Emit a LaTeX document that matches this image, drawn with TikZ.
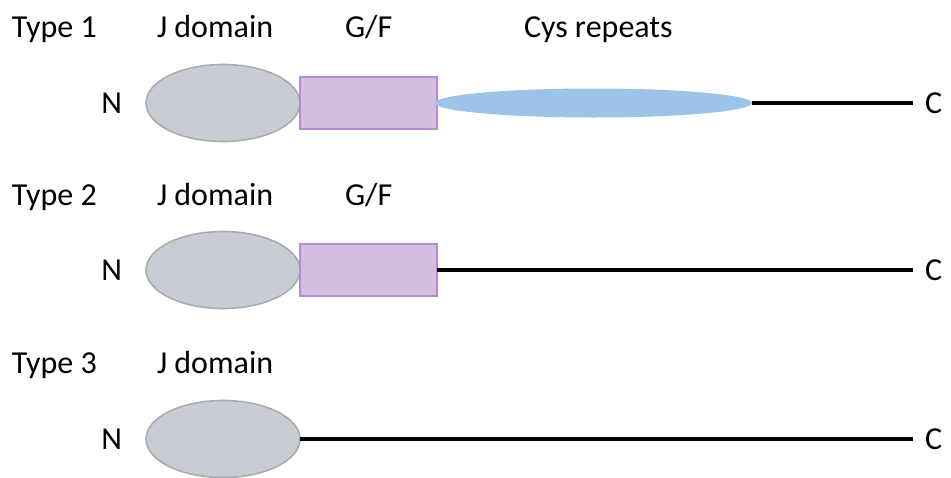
\documentclass[tikz,border=0pt]{standalone}
\usepackage{fontspec}
\setmainfont{Carlito}
\usetikzlibrary{shapes.geometric, positioning}
\definecolor{jfill}{HTML}{C8CCD3}
\definecolor{jline}{HTML}{A7ACB4}
\definecolor{gffill}{HTML}{D3BDE0}
\definecolor{gfline}{HTML}{B38DD1}
\definecolor{cysfill}{HTML}{9DC3E6}
\tikzset{x=1pt, y=-1pt, % one unit is one pixel of the figure
every node/.style={font=\fontsize{32}{38}\selectfont, inner sep=0pt, outer sep=0pt},
label/.style={anchor=base west}, % Type and domain names
jdom/.style={ % J domain
ellipse, draw=jline, fill=jfill, line width=1.6pt,
minimum width=154pt, minimum height=77pt},
gfbox/.style={ % G/F region
rectangle, draw=gfline, fill=gffill, line width=2pt,
minimum width=137pt, minimum height=52pt},
cys/.style={ % Cys repeats
ellipse, fill=cysfill, minimum width=317pt, minimum height=29pt},
chain/.style={black, line width=3.2pt}}

\begin{document}
\begin{tikzpicture}
    \useasboundingbox (0,0) rectangle (951,477);

    % Type 1
    \node[label] (t1) at (12,37) {Type 1};
    \node[label] (jl1) at (157,37) {J domain};
    \node[label] (gl1) at (345,37) {G/F};
    \node[label] (cl1) at (524,37) {Cys repeats};
    \node[jdom] (j1) at (223,103) {};
    \node[gfbox, right=0pt of j1] (g1) {};
    \node[cys, right=-2pt of g1] (r1) {};
    \node[left=24pt of j1] (n1) {N};
    \node[anchor=west] (c1) at (925,103) {C};
    \draw[chain, shorten >=12pt] (r1.east) -- (c1.west);

    % Type 2
    \node[label] (t2) at (12,205) {Type 2};
    \node[label] (jl2) at (157,205) {J domain};
    \node[label] (gl2) at (345,205) {G/F};
    \node[jdom] (j2) at (223,270) {};
    \node[gfbox, right=0pt of j2] (g2) {};
    \node[left=24pt of j2] (n2) {N};
    \node[anchor=west] (c2) at (925,270) {C};
    \draw[chain, shorten >=12pt] (g2.east) -- (c2.west);

    % Type 3
    \node[label] (t3) at (12,373) {Type 3};
    \node[label] (jl3) at (157,373) {J domain};
    \node[jdom] (j3) at (223,439) {};
    \node[left=24pt of j3] (n3) {N};
    \node[anchor=west] (c3) at (925,439) {C};
    \draw[chain, shorten >=12pt] (j3.east) -- (c3.west);

\end{tikzpicture}
\end{document}
